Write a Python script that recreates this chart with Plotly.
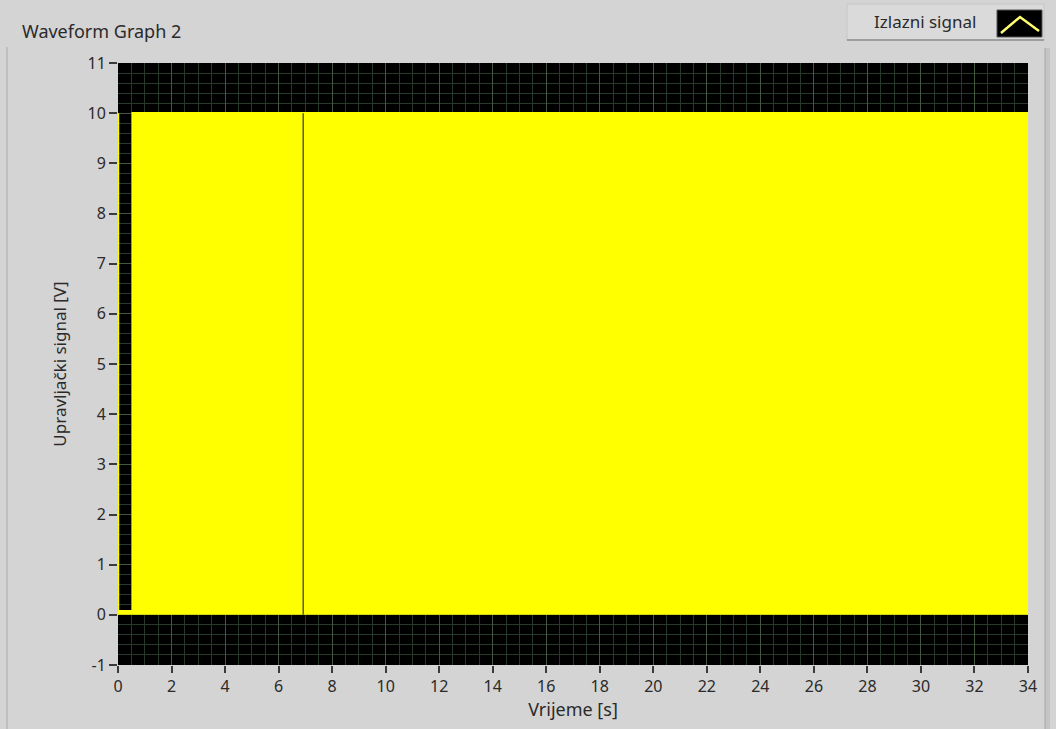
import plotly.graph_objects as go

# ---- data ----
signal_time = [0.0, 0.0, 0.0, 0.55, 0.55, 34.0, 34.0]       # s
signal_volt = [0.0, 10.0, 0.07, 0.07, 10.0, 10.0, 0.0]      # V (envelope of fast PWM)
gap_time = [6.92, 6.92]
gap_volt = [0.0, 10.0]
x_ticks = list(range(0, 35, 2))
y_ticks = list(range(-1, 12))

# plot area in pixels
L, R, T, B = 118, 1028, 63, 665
W, H = 1056, 729


def px(x):
    return (x - L) / (R - L)


def py(y):
    return (B - y) / (B - T)


FONT = "Noto Sans"
BG = "#d4d4d4"
TXT = "#2a2a2a"

fig = go.Figure()
fig.add_trace(go.Scatter(
    x=signal_time, y=signal_volt, mode="lines",
    line=dict(color="#ffff00", width=2.5),
    fill="tozeroy", fillcolor="#ffff00",
    name="Izlazni signal", showlegend=False, hoverinfo="skip", cliponaxis=False))
fig.add_trace(go.Scatter(
    x=gap_time, y=gap_volt, mode="lines",
    line=dict(color="#5a5a46", width=1.5),
    showlegend=False, hoverinfo="skip"))

shapes = []
# panel bevel edges
shapes.append(dict(type="line", xref="paper", yref="paper",
                   x0=px(7), x1=px(7), y0=py(47), y1=py(729),
                   line=dict(color="#b8b8b8", width=1.5)))
shapes.append(dict(type="rect", xref="paper", yref="paper",
                   x0=px(1045), x1=px(1050), y0=py(48), y1=py(729),
                   fillcolor="#c4c4c4", line=dict(width=0)))
shapes.append(dict(type="line", xref="paper", yref="paper",
                   x0=px(1045), x1=px(1045), y0=py(48), y1=py(729),
                   line=dict(color="#a8a8a8", width=1)))
# legend box
shapes.append(dict(type="rect", xref="paper", yref="paper",
                   x0=px(847), x1=px(1044), y0=py(40), y1=py(4),
                   fillcolor="#dadada", line=dict(color="#c6c6c6", width=1)))
shapes.append(dict(type="line", xref="paper", yref="paper",
                   x0=px(847), x1=px(1044), y0=py(40), y1=py(40),
                   line=dict(color="#8c8c8c", width=1.5)))
shapes.append(dict(type="rect", xref="paper", yref="paper",
                   x0=px(997), x1=px(1042), y0=py(37), y1=py(10),
                   fillcolor="#000000", line=dict(color="#555555", width=1)))
shapes.append(dict(type="path", xref="paper", yref="paper",
                   path="M {:.5f} {:.5f} L {:.5f} {:.5f} L {:.5f} {:.5f}".format(
                       px(1001), py(33), px(1020), py(17), px(1039), py(31)),
                   line=dict(color="#ffff70", width=2.5)))

annotations = [
    dict(text="Waveform Graph 2", xref="paper", yref="paper",
         x=px(20), y=py(31), xanchor="left", yanchor="middle", showarrow=False,
         font=dict(family=FONT, size=18, color=TXT)),
    dict(text="Izlazni signal", xref="paper", yref="paper",
         x=px(925), y=py(22), xanchor="center", yanchor="middle", showarrow=False,
         font=dict(family=FONT, size=17, color=TXT)),
]

fig.update_layout(
    width=W, height=H,
    margin=dict(l=L, r=W - R, t=T, b=H - B, pad=0),
    paper_bgcolor=BG, plot_bgcolor="#000000",
    showlegend=False,
    shapes=shapes, annotations=annotations,
    font=dict(family=FONT, size=16, color=TXT),
)

fig.update_xaxes(
    range=[0, 34], tickvals=x_ticks, ticktext=[str(v) for v in x_ticks],
    ticks="outside", ticklen=7, tickwidth=1.5, tickcolor="#3a3a3a",
    showgrid=True, gridcolor="#42583f", gridwidth=1,
    minor=dict(dtick=0.5, tick0=0, showgrid=True, gridcolor="#27392a", gridwidth=1),
    zeroline=False, showline=False,
    title=dict(text="Vrijeme [s]", standoff=2, font=dict(family=FONT, size=18, color=TXT)),
    tickfont=dict(family=FONT, size=16, color=TXT),
)
fig.update_yaxes(
    range=[-1, 11], tickvals=y_ticks, ticktext=[str(v) for v in y_ticks],
    ticks="outside", ticklen=8, tickwidth=1.5, tickcolor="#3a3a3a",
    showgrid=True, gridcolor="#42583f", gridwidth=1,
    minor=dict(dtick=0.2, tick0=0, showgrid=True, gridcolor="#27392a", gridwidth=1),
    zeroline=False, showline=False,
    title=dict(text="Upravljački signal [V]", standoff=16, font=dict(family=FONT, size=17, color=TXT)),
    tickfont=dict(family=FONT, size=16, color=TXT),
)

fig.write_html("out.html", config=dict(displayModeBar=False))
